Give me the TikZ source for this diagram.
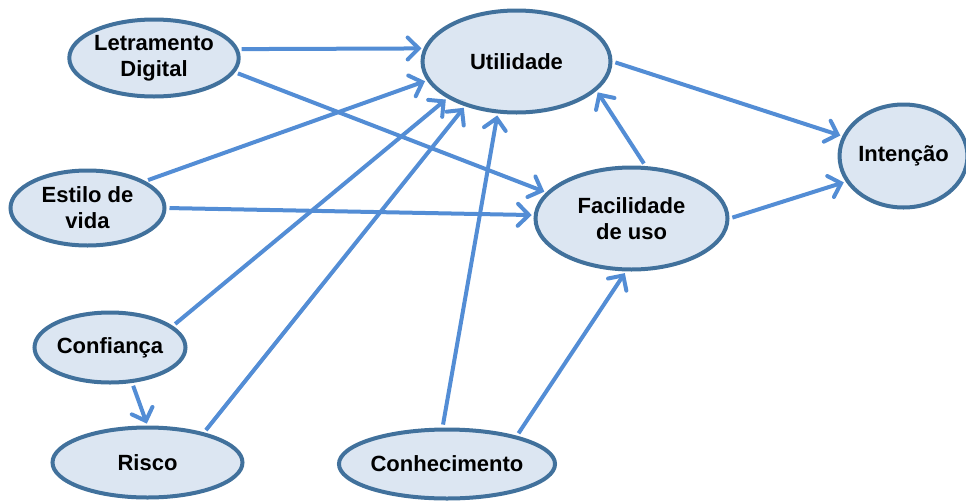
\documentclass[tikz,border=0pt]{standalone}
\usepackage{fontspec}
\setmainfont{Liberation Sans}
\usetikzlibrary{shapes.geometric,arrows.meta}
\definecolor{nodefill}{RGB}{220,230,242}
\definecolor{nodeborder}{RGB}{65,113,156}
\definecolor{arrowblue}{RGB}{83,141,213}
\begin{document}
\begin{tikzpicture}[x=1pt,y=-1pt,
  var/.style={ellipse, draw=nodeborder, fill=nodefill, line width=4pt,
    inner sep=0pt, align=center, font=\fontsize{22}{26}\selectfont\bfseries},
  link/.style={draw=arrowblue, line width=4pt,
    -{Straight Barb[length=11pt,width=22pt,line cap=round]},
    shorten <=3pt, shorten >=2pt}]
\useasboundingbox (0,0) rectangle (966,501);
\node[var, minimum width=152pt, minimum height=77pt] (L) at (154,58) {Letramento\\Digital};
\node[var, minimum width=188pt, minimum height=102pt] (U) at (516.5,61.5) {\raisebox{-5pt}{Utilidade}};
\node[var, minimum width=112pt, minimum height=103pt] (I) at (903.5,156) {Intenção};
\node[var, minimum width=192pt, minimum height=102pt] (F) at (631.5,218.5) {Facilidade\\de uso};
\node[var, minimum width=154pt, minimum height=75pt] (E) at (87.5,208) {Estilo de\\vida};
\node[var, minimum width=151pt, minimum height=70pt] (C) at (110,347.5) {Confiança};
\node[var, minimum width=190pt, minimum height=70pt] (R) at (147.5,462.5) {Risco};
\node[var, minimum width=173pt, minimum height=69pt] (K) at (447,464) {Conhecimento};

\draw[link] (L.6.9) -- (U.172.2);
\draw[link] (L.-10.9) -- (F.163);
\draw[link] (E.25.6) -- (U.192.2);
\draw[link] (E.0.7) -- (F.178);
\draw[link] (C.19.5) -- (U.208.4);
\draw[link] (R.28.2) -- (U.221.7);
\draw[link] (K.97) -- (U.250.6);
\draw[link] (K.22.9) -- (F.264.2);
\draw[link] (F.75.4) -- (U.-20.4);
\draw[link] (U.-0.9) -- (I.162.9);
\draw[link] (F.0.3) -- (I.204);
\draw[link] (C.-58.5) -- (R.90.7);
\end{tikzpicture}
\end{document}
